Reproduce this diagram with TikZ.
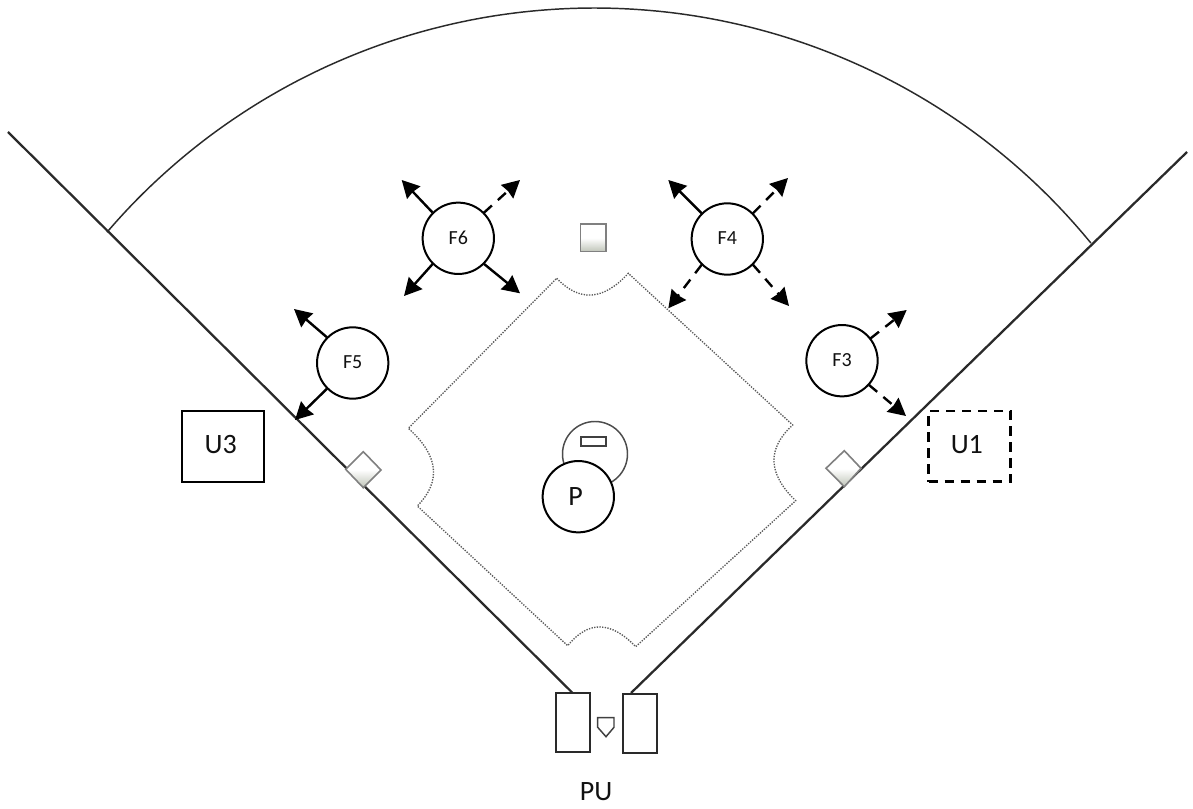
\documentclass[tikz,border=0pt]{standalone}
\usepackage{fontspec}
\setmainfont{Carlito}
\usetikzlibrary{arrows.meta}
\definecolor{ink}{HTML}{111111}
\definecolor{line}{HTML}{2A2A2A}
\definecolor{bagshade}{HTML}{BFC4B8}
\newcommand{\lift}[2][0pt]{\raisebox{#1}{#2}}
\tikzset{
  fielder/.style={circle,draw=black,line width=1.5pt,fill=white,inner sep=0pt,outer sep=0pt,minimum size=53.5pt,font=\fontsize{15}{17}\selectfont,text=ink},
  umpire/.style={rectangle,draw=black,line width=1.7pt,inner sep=0pt,outer sep=0pt,minimum width=61.5pt,minimum height=53pt,font=\fontsize{21}{25}\selectfont,text=ink},
  batbox/.style={rectangle,draw=line,line width=1.5pt,inner sep=0pt,outer sep=0pt,minimum width=25.5pt,minimum height=44pt},
  moveline/.style={-{Stealth[length=13pt,width=13.5pt,inset=0.8pt]},line width=1.8pt,black,shorten <=0.5pt},
  movedash/.style={moveline,dash pattern=on 8pt off 6pt},
  foul/.style={line width=1.7pt,draw=line},
  infield/.style={line width=1pt,draw=black!65,dash pattern=on 1pt off 1pt},
  basebag/.style={draw=black!50,line width=1.2pt,top color=white,bottom color=bagshade,middle color=white},
}
\begin{document}
\begin{tikzpicture}[x=0.75pt,y=-0.75pt]
\useasboundingbox (0,0) rectangle (1193,809);
\fill[white] (0,0) rectangle (1193,809);
% outfield arc
\draw[line width=1.1pt,draw=line] plot[domain=-49.4:50.66,samples=90,smooth] ({594.4+642*sin(\x)},{650-642*cos(\x)});
% batter boxes and plate
\node[batbox] (boxl) at (572.5,722.2) {};
\node[batbox] (boxr) at (640,723.5) {};
\draw[line width=1.1pt,draw=black!75] (597.7,717.7) -- (614,717.7) -- (614,727.3) -- (606,736.7) -- (597.7,727.3) -- cycle;
% foul lines
\coordinate (lfar) at (8,132);
\coordinate (rfar) at (1187,152);
\coordinate (rnear) at (631,693);
\draw[foul] (lfar) -- (boxl.north);
\draw[foul] (rfar) -- (rnear);
% infield edge
\draw[infield] (556.7,278.3) .. controls (579.5,302.2) and (603.4,300.6) .. (628.3,273.3)
  -- (792.7,425) .. controls (766.7,448.7) and (767.8,473.9) .. (795.7,500.7)
  -- (635.7,646.7) .. controls (610.8,620.7) and (588.1,620.4) .. (567.7,645.7)
  -- (417.3,506) .. controls (441.6,481.2) and (438.6,455.4) .. (408.3,428.3)
  -- cycle;
% bases
\draw[basebag] (580.3,224.3) rectangle (606,251.7);
\draw[basebag] (363.3,451.7) -- (381,470) -- (363.3,487.7) -- (345.7,469.3) -- cycle;
\draw[basebag] (844.3,450.7) -- (861,468.3) -- (844.3,486.7) -- (826,468.3) -- cycle;
% mound
\draw[line width=1.1pt,draw=black!70] (595,454) circle[radius=32.5];
\draw[line width=1.2pt,draw=black!75] (581,436.7) rectangle (606,445.7);
% players
\node[fielder] (f6) at (458.3,238.3) {\lift[0.8pt]{F6}};
\node[fielder] (f4) at (727.3,239) {\lift[1pt]{F4}};
\node[fielder] (f5) at (352.7,363) {\lift[1pt]{F5}};
\node[fielder] (f3) at (842,360.7) {\lift[1.5pt]{F3}};
\node[fielder,font=\fontsize{21}{25}\selectfont] (p) at (578.3,496.7) {\lift[-2pt]{P\kern 4pt}};
\node[umpire] (u3) at (223.3,446.4) {\lift[2.5pt]{U3\kern 4pt}};
\node[umpire,dash pattern=on 7pt off 5pt] (u1) at (969.5,446.2) {\lift[3pt]{U1\kern 4pt}};
\node[inner sep=0pt,font=\fontsize{21}{25}\selectfont,text=ink] (pu) at (596,792) {PU};
% arrow tips
\coordinate (a1) at (401.7,180);
\coordinate (a2) at (520,180);
\coordinate (a3) at (404,296);
\coordinate (a4) at (520,293.3);
\coordinate (b1) at (668.3,180);
\coordinate (b2) at (788,178);
\coordinate (b3) at (668.3,308.3);
\coordinate (b4) at (789,306);
\coordinate (c1) at (906.7,310);
\coordinate (c2) at (906,416);
\coordinate (d1) at (294,309);
\coordinate (d2) at (295,420);
% movement arrows
\draw[moveline] (f6.135) -- (a1);
\draw[movedash] (f6.45) -- (a2);
\draw[moveline] (f6.225) -- (a3);
\draw[moveline] (f6.315) -- (a4);
\draw[moveline] (f4.135) -- (b1);
\draw[movedash] (f4.45) -- (b2);
\draw[movedash] (f4.225) -- (b3);
\draw[movedash] (f4.315) -- (b4);
\draw[movedash] (f3.38) -- (c1);
\draw[movedash] (f3.-42) -- (c2);
\draw[moveline] (f5.135) -- (d1);
\draw[moveline] (f5.225) -- (d2);
\end{tikzpicture}
\end{document}
